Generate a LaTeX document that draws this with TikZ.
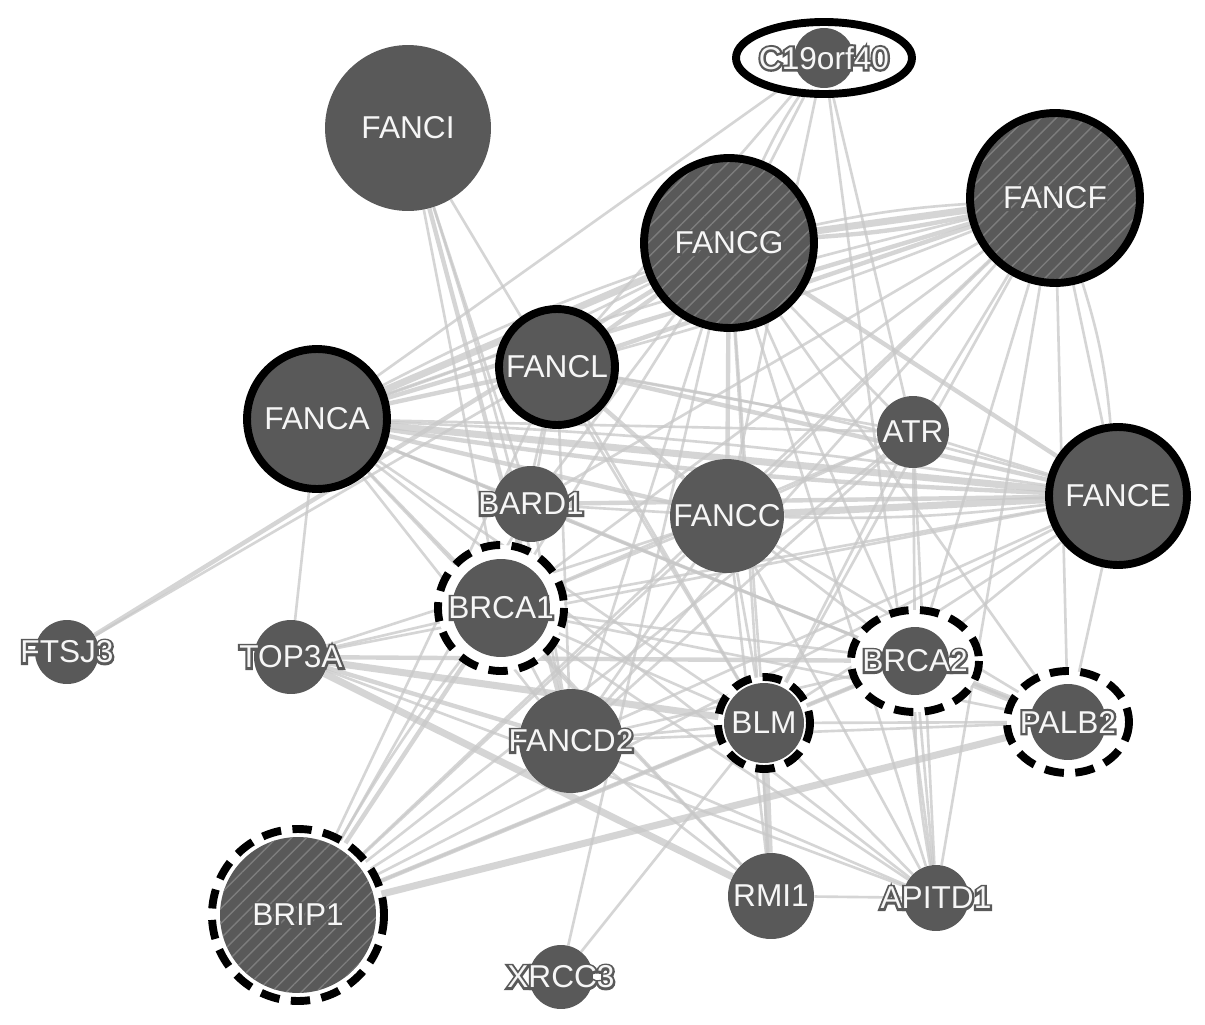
\documentclass[tikz,border=0pt]{standalone}
\usepackage{fontspec}
\setmainfont{Liberation Sans}
\newfontfamily\halo{Liberation Sans}[FakeBold=14]
\usetikzlibrary{patterns.meta}
\definecolor{Node}{RGB}{89,89,89}
\definecolor{Edge}{RGB}{200,200,200}
\definecolor{Hatch}{RGB}{125,125,125}
\definecolor{Label}{RGB}{246,246,246}
\pgfdeclarelayer{edges}
\pgfdeclarelayer{rings}
\pgfsetlayers{edges,rings,main}
\newcommand{\gl}[1]{\makebox[0pt]{\textcolor{Node}{\halo #1}}\makebox[0pt]{#1}}

\begin{document}
\begin{tikzpicture}[x=0.02cm,y=-0.02cm,
 g/.style={circle,fill=Node,inner sep=0pt,minimum size=#1*0.04cm,text=Label,font=\fontsize{18}{20}\selectfont},
 core/.style={draw=black,line width=4.5pt},
 hatch/.style={preaction={fill=Node},pattern={Lines[angle=45,distance=6pt,line width=.8pt]},pattern color=Hatch},
 dr/.style={draw=black,fill=white,line width=4.5pt,dash pattern=on 11pt off 6.5pt},
 lk/.style={draw=Edge,line width=1.5pt,opacity=.75},
 lkm/.style={draw=Edge,line width=2.5pt,opacity=.75},
 lkw/.style={draw=Edge,line width=4pt,opacity=.75}]
\useasboundingbox (0,0) rectangle (1205,1025);
% genes
\node[g=83] (ci) at (408,128) {\gl{FANCI}};
\node[g=85,core,hatch] (cg) at (729,243) {\gl{FANCG}};
\node[g=85,core,hatch] (cf) at (1055,198) {\gl{FANCF}};
\node[g=58,core] (cl) at (557,367) {\gl{FANCL}};
\node[g=70,core] (ca) at (317,419) {\gl{FANCA}};
\node[g=69,core] (ce) at (1118,496) {\gl{FANCE}};
\node[g=36] (atr) at (913,432) {\gl{ATR}};
\node[g=38] (bard) at (531,504) {\gl{BARD1}};
\node[g=57] (cc) at (727,516) {\gl{FANCC}};
\node[g=49] (b1) at (501,608) {\gl{BRCA1}};
\node[g=32] (ftsj) at (67,652) {\gl{FTSJ3}};
\node[g=37] (top) at (291,657) {\gl{TOP3A}};
\node[g=34] (b2) at (915,661) {\gl{BRCA2}};
\node[g=38] (palb) at (1068,722) {\gl{PALB2}};
\node[g=40] (blm) at (764,723) {\gl{BLM}};
\node[g=52] (d2) at (571,741) {\gl{FANCD2}};
\node[g=78,hatch] (brip) at (298,915) {\gl{BRIP1}};
\node[g=43] (rmi) at (771,896) {\gl{RMI1}};
\node[g=33] (apitd) at (936,898) {\gl{APITD1}};
\node[g=32] (xrcc) at (561,977) {\gl{XRCC3}};
\node[g=30] (c19) at (824,58) {\gl{C19orf40}};
% query rings
\begin{pgfonlayer}{rings}
\draw[dr] (b1.center) circle[radius=63];
\draw[dr] (blm.center) circle[radius=46];
\draw[dr] (brip.center) circle[radius=86];
\draw[dr] (b2.center) ellipse[x radius=64,y radius=51];
\draw[dr] (palb.center) ellipse[x radius=61,y radius=51];
\draw[draw=black,fill=white,line width=4.5pt] (c19.center) ellipse[x radius=88,y radius=36];
\end{pgfonlayer}
% links
\begin{pgfonlayer}{edges}
\fill[white] (0,0) rectangle (1205,1025);
\draw[lkw] (ca)--(cg);\draw[lk] (ca) to[bend left=4] (cg);\draw[lk] (ca) to[bend right=4] (cg);
\draw[lkw] (cg)--(cf);\draw[lk] (cg) to[bend left=4] (cf);\draw[lkm] (cg) to[bend right=4] (cf);
\draw[lkw] (ca)--(ce);\draw[lk] (ca) to[bend left=3] (ce);\draw[lkm] (ca) to[bend right=3] (ce);
\draw[lkm] (ca)--(cf);\draw[lk] (ca) to[bend left=3] (cf);
\draw[lkw] (cc)--(ce);\draw[lk] (cc) to[bend right=4] (ce);
\draw[lkm] (cl)--(ce);\draw[lk] (cl) to[bend left=3] (ce);
\draw[lkm] (cl)--(cf);\draw[lk] (cl) to[bend right=3] (cf);
\draw[lkm] (cg)--(ce);\draw[lk] (cf)--(ce);\draw[lk] (cf) to[bend left=6] (ce);
\draw[lkw] (blm)--(rmi);\draw[lkw] (top)--(blm);\draw[lkw] (top)--(rmi);
\draw[lkw] (brip)--(palb);\draw[lkm] (brip)--(b2);\draw[lkw] (b2)--(palb);
\draw[lkm] (ci)--(d2);\draw[lk] (ci) to[bend left=3] (d2);
\draw[lk] (ci)--(b1);\draw[lk] (ci)--(bard);\draw[lk] (ci)--(blm);
\draw[lk] (c19)--(cg);\draw[lk] (c19) to[bend right=5] (cg);\draw[lk] (c19)--(ca);\draw[lk] (c19)--(cl);
\draw[lk] (c19)--(atr);\draw[lk] (c19)--(apitd);\draw[lk] (c19)--(cc);
\draw[lkm] (ftsj)--(cg);\draw[lk] (ftsj)--(cl);
\draw[lkm] (ca)--(cl);\draw[lkm] (ca)--(cc);\draw[lk] (ca)--(atr);\draw[lk] (ca)--(b2);
\draw[lk] (ca)--(blm);\draw[lk] (ca)--(b1);\draw[lk] (ca)--(bard);\draw[lk] (ca)--(top);
\draw[lk] (ca)--(d2);\draw[lk] (ca)--(rmi);\draw[lk] (ca)--(palb);\draw[lk] (ca)--(apitd);
\draw[lkm] (cg)--(cl);\draw[lkm] (cg)--(cc);\draw[lk] (cg)--(atr);\draw[lk] (cg)--(b1);
\draw[lk] (cg)--(d2);\draw[lk] (cg)--(blm);\draw[lk] (cg)--(b2);\draw[lk] (cg)--(rmi);
\draw[lk] (cg)--(apitd);\draw[lk] (cg)--(xrcc);\draw[lk] (cg)--(bard);\draw[lk] (cg)--(palb);
\draw[lk] (cf)--(cc);\draw[lk] (cf)--(atr);\draw[lk] (cf)--(b1);\draw[lk] (cf)--(d2);
\draw[lk] (cf)--(blm);\draw[lk] (cf)--(b2);\draw[lk] (cf)--(palb);\draw[lk] (cf)--(apitd);
\draw[lk] (cf)--(bard);\draw[lk] (cf)--(brip);
\draw[lkm] (cl)--(cc);\draw[lk] (cl)--(b1);\draw[lk] (cl)--(bard);\draw[lk] (cl)--(d2);
\draw[lk] (cl)--(atr);\draw[lk] (cl)--(blm);\draw[lk] (cl)--(brip);
\draw[lk] (ce)--(atr);\draw[lkm] (ce)--(bard);\draw[lk] (ce)--(b1);\draw[lk] (ce)--(d2);
\draw[lk] (ce)--(blm);\draw[lk] (ce)--(b2);\draw[lk] (ce)--(palb);\draw[lk] (ce)--(top);
\draw[lk] (ce)--(brip);
\draw[lk] (atr)--(b1);\draw[lk] (atr)--(d2);\draw[lk] (atr)--(blm);\draw[lk] (atr)--(apitd);
\draw[lk] (atr)--(cc);\draw[lk] (atr)--(b2);\draw[lk] (atr)--(brip);
\draw[lk] (cc)--(b1);\draw[lk] (cc)--(d2);\draw[lk] (cc)--(blm);\draw[lk] (cc)--(bard);
\draw[lk] (cc)--(rmi);\draw[lk] (cc)--(b2);\draw[lk] (cc)--(apitd);\draw[lk] (cc)--(palb);
\draw[lk] (cc)--(top);
\draw[lkm] (bard)--(b1);\draw[lk] (bard)--(d2);\draw[lk] (bard)--(brip);\draw[lk] (bard)--(b2);
\draw[lkm] (b1)--(brip);\draw[lk] (b1) to[bend right=4] (brip);\draw[lk] (b1)--(d2);
\draw[lk] (b1)--(b2);\draw[lk] (b1)--(palb);\draw[lk] (b1)--(blm);\draw[lk] (b1)--(top);
\draw[lk] (b1)--(rmi);\draw[lk] (b1)--(apitd);
\draw[lkm] (top)--(d2);\draw[lkm] (top)--(b2);\draw[lk] (top)--(apitd);
\draw[lk] (brip)--(d2);\draw[lk] (brip)--(blm);\draw[lk] (brip)--(cc);
\draw[lk] (d2)--(b2);\draw[lk] (d2)--(blm);\draw[lk] (d2)--(rmi);\draw[lk] (d2)--(apitd);
\draw[lk] (d2)--(palb);
\draw[lk] (blm)--(apitd);\draw[lk] (blm)--(b2);\draw[lk] (blm)--(xrcc);\draw[lk] (blm)--(palb);
\draw[lk] (rmi)--(apitd);\draw[lk] (apitd)--(b2);\draw[lk] (apitd) to[bend left=5] (b2);
\end{pgfonlayer}
\end{tikzpicture}
\end{document}
